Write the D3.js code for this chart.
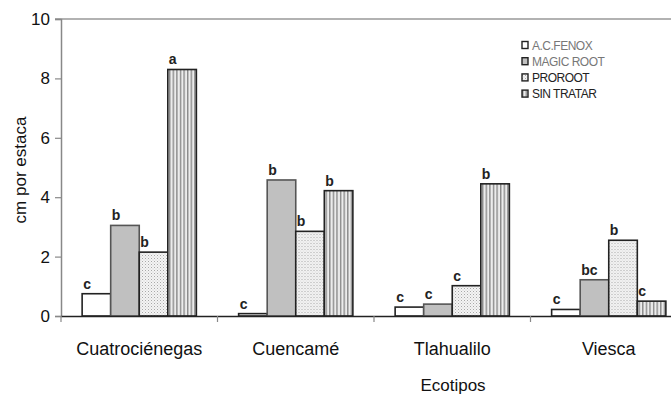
<!DOCTYPE html>
<html>
<head>
<meta charset="utf-8">
<script src="https://cdn.jsdelivr.net/npm/d3@7"></script>
<style>
  body { margin: 0; background: #fff; }
  text { font-family: "Liberation Sans", Arial, sans-serif; }
</style>
</head>
<body>
<svg width="671" height="399"></svg>
<script>
var ecotipos = ["Cuatrociénegas", "Cuencamé", "Tlahualilo", "Viesca"];
var tratamientos = ["A.C.FENOX", "MAGIC ROOT", "PROROOT", "SIN TRATAR"];
var acFenox   = [0.75, 0.08, 0.3, 0.22];
var magicRoot = [3.05, 4.58, 0.4, 1.22];
var proroot   = [2.15, 2.85, 1.02, 2.55];
var sinTratar = [8.3, 4.22, 4.45, 0.5];
var letras = [
  ["c", "b", "b", "a"],
  ["c", "b", "b", "b"],
  ["c", "c", "c", "b"],
  ["c", "bc", "b", "c"]
];
var yTicks = [0, 2, 4, 6, 8, 10];

var series = [acFenox, magicRoot, proroot, sinTratar];

var svg = d3.select("svg");
var defs = svg.append("defs");

// patterns
var dots = defs.append("pattern").attr("id", "dots")
    .attr("patternUnits", "userSpaceOnUse").attr("width", 3).attr("height", 3);
dots.append("rect").attr("width", 3).attr("height", 3).attr("fill", "#f4f4f4");
dots.append("rect").attr("width", 1).attr("height", 1).attr("fill", "#a8a8a8");
dots.append("rect").attr("x", 1.5).attr("y", 1.5).attr("width", 1).attr("height", 1).attr("fill", "#c8c8c8");

var stripes = defs.append("pattern").attr("id", "stripes")
    .attr("patternUnits", "userSpaceOnUse").attr("width", 3.6).attr("height", 4);
stripes.append("rect").attr("width", 3.6).attr("height", 4).attr("fill", "#ececec");
stripes.append("rect").attr("width", 1.4).attr("height", 4).attr("fill", "#8a8a8a");

var fills = ["#ffffff", "#c0c0c0", "url(#dots)", "url(#stripes)"];

var y = d3.scaleLinear().domain([0, 10]).range([316, 19]);
var x0 = d3.scaleBand().domain(ecotipos).range([61, 687]);
var x1 = d3.scaleBand().domain(tratamientos).range([0, x0.bandwidth()])
    .paddingInner(0).paddingOuter(0.74);

// top frame line
svg.append("line").attr("x1", 55).attr("x2", 671).attr("y1", y(10)).attr("y2", y(10))
    .attr("stroke", "#999").attr("stroke-width", 1.5);

// y axis
var yAxis = d3.axisLeft(y).tickValues(yTicks).tickSize(6).tickPadding(5);
var gy = svg.append("g").attr("transform", "translate(61,0)").call(yAxis);
gy.select(".domain").attr("stroke", "#888").attr("stroke-width", 1.5);
gy.selectAll(".tick line").attr("stroke", "#888").attr("stroke-width", 1.2);
gy.selectAll(".tick text").attr("font-size", 17).attr("fill", "#111")
    .attr("font-family", "Liberation Sans, Arial, sans-serif");

// bars
var groups = svg.append("g").selectAll("g")
  .data(ecotipos)
  .enter().append("g")
    .attr("transform", function(d) { return "translate(" + x0(d) + ",0)"; });

groups.each(function(eco, i) {
  var g = d3.select(this);
  tratamientos.forEach(function(t, j) {
    var v = series[j][i];
    g.append("rect")
        .attr("x", x1(t))
        .attr("y", y(v))
        .attr("width", x1.bandwidth())
        .attr("height", y(0) - y(v))
        .attr("fill", fills[j])
        .attr("stroke", j === 1 ? "#555" : "#222")
        .attr("stroke-width", 1.6);
    g.append("text")
        .attr("x", x1(t) + 1)
        .attr("y", y(v) - 5)
        .attr("font-size", 14)
        .attr("font-weight", "bold")
        .attr("fill", "#222")
        .text(letras[i][j]);
  });
});

// x axis
var xAxis = d3.axisBottom(x0).tickSize(0).tickPadding(26);
var gx = svg.append("g").attr("transform", "translate(0," + y(0) + ")").call(xAxis);
gx.select(".domain").attr("stroke", "#222").attr("stroke-width", 1.5);
gx.selectAll(".tick text").attr("font-size", 18).attr("fill", "#111")
    .attr("font-family", "Liberation Sans, Arial, sans-serif");
gx.selectAll(".sep")
  .data(ecotipos)
  .enter().append("line")
    .attr("x1", function(d) { return x0(d); })
    .attr("x2", function(d) { return x0(d); })
    .attr("y1", 0).attr("y2", 6)
    .attr("stroke", "#888").attr("stroke-width", 1.2);

// axis titles
svg.append("text")
    .attr("transform", "translate(26,170) rotate(-90)")
    .attr("text-anchor", "middle")
    .attr("font-size", 17)
    .attr("fill", "#111")
    .text("cm por estaca");

svg.append("text")
    .attr("x", 453).attr("y", 391)
    .attr("text-anchor", "middle")
    .attr("font-size", 17)
    .attr("fill", "#111")
    .text("Ecotipos");

// legend
var legend = svg.append("g").attr("transform", "translate(522,45)");
tratamientos.forEach(function(t, j) {
  legend.append("rect")
      .attr("x", 0).attr("y", j * 16.2 - 3.5)
      .attr("width", 6).attr("height", 7)
      .attr("fill", fills[j])
      .attr("stroke", "#222").attr("stroke-width", 1.4);
  legend.append("text")
      .attr("x", 10).attr("y", j * 16.2 + 4.5)
      .attr("font-size", 12)
      .attr("letter-spacing", -0.5)
      .attr("fill", j === 0 || j === 1 ? "#777" : "#222")
      .text(t);
});
</script>
</body>
</html>
